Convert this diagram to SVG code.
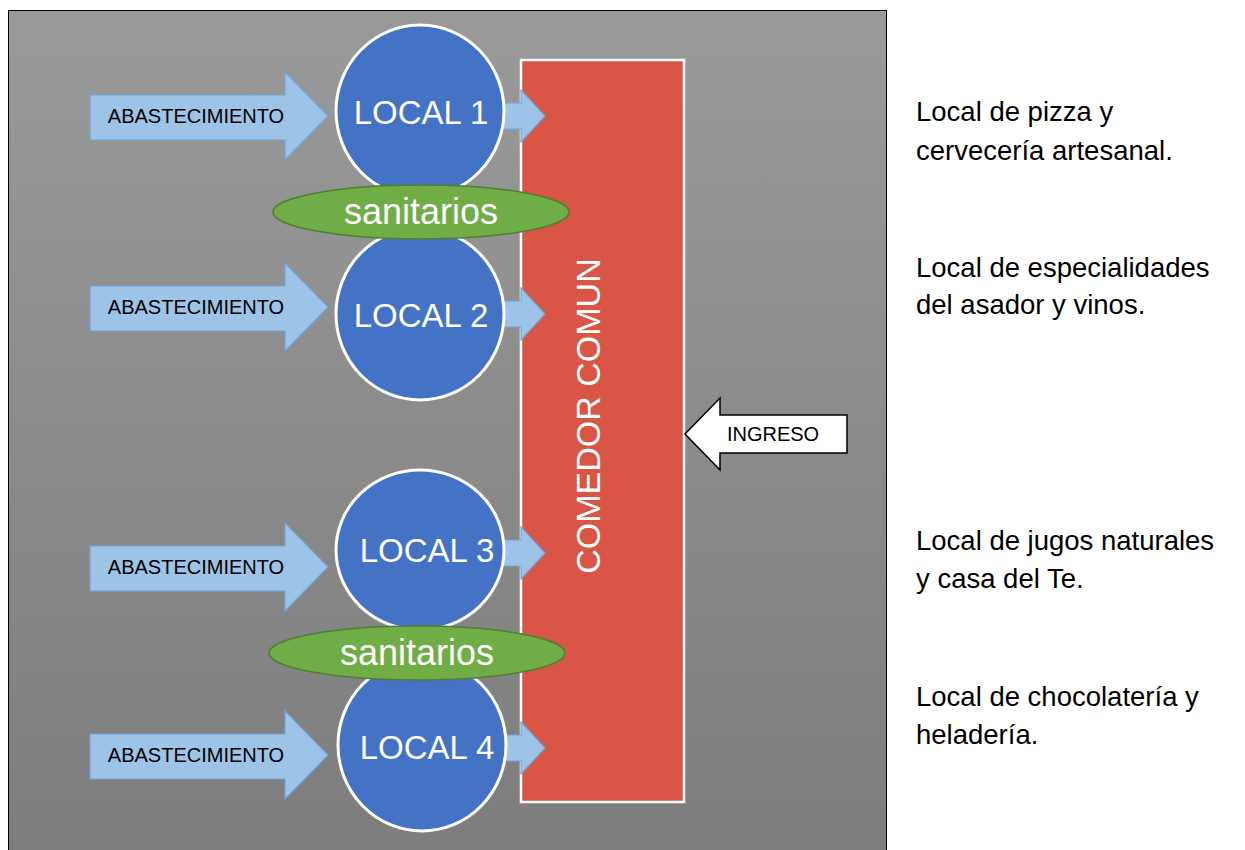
<svg xmlns="http://www.w3.org/2000/svg" width="1245" height="850" viewBox="0 0 1245 850">
<defs>
<linearGradient id="bg" x1="0" y1="0" x2="0" y2="1">
<stop offset="0" stop-color="#9a9a9a"/>
<stop offset="1" stop-color="#7d7d7d"/>
</linearGradient>
<style>
.sup{fill:#9dc3e6;stroke:#6fa6db;stroke-width:1.2}
.loc{fill:#4472c4;stroke:#ffffff;stroke-width:3}
.san{fill:#70ad47;stroke:#507e32;stroke-width:1.5}
.t{font-family:"Liberation Sans",Arial,sans-serif}
.w{fill:#ffffff}
.side{font-family:"Liberation Sans",Arial,sans-serif;font-size:27.5px;fill:#000}
</style>
</defs>
<rect x="0" y="0" width="1245" height="850" fill="#ffffff"/>
<rect id="frame" x="8.5" y="10.5" width="878" height="845" fill="url(#bg)" stroke="#000" stroke-width="1"/>

<g id="comedor">
<rect x="521" y="60" width="163" height="742" fill="#d95545" stroke="#ffffff" stroke-width="2.5"/>
<text class="t w" x="0" y="0" font-size="34" text-anchor="middle" transform="translate(600,416) rotate(-90)">COMEDOR COMUN</text>
</g>

<g id="connectors">
<path class="sup" d="M90,95 H285 V72 L328,116 L285,160 V140 H90 Z"/>
<path class="sup" d="M90,286 H285 V263 L328,307 L285,351 V331 H90 Z"/>
<path class="sup" d="M90,546 H285 V523 L328,567 L285,611 V591 H90 Z"/>
<path class="sup" d="M90,734 H285 V711 L328,755 L285,799 V779 H90 Z"/>
<path class="sup" d="M495,103 H521 V90 L545,116 L521,142 V129 H495 Z"/>
<path class="sup" d="M495,301 H521 V288 L545,314 L521,340 V327 H495 Z"/>
<path class="sup" d="M495,540 H521 V527 L545,553 L521,579 V566 H495 Z"/>
<path class="sup" d="M495,735 H521 V722 L545,748 L521,774 V761 H495 Z"/>
</g>

<g id="ingreso">
<path d="M685,434 L720,398 V415 H847 V453 H720 V470 Z" fill="#ffffff" stroke="#000" stroke-width="1.5"/>
<text class="t" x="773" y="441" font-size="20" text-anchor="middle" fill="#000">INGRESO</text>
</g>

<g id="abast1"><text class="t" x="196" y="123" font-size="20" text-anchor="middle" fill="#000">ABASTECIMIENTO</text></g>
<g id="abast2"><text class="t" x="196" y="314" font-size="20" text-anchor="middle" fill="#000">ABASTECIMIENTO</text></g>
<g id="abast3"><text class="t" x="196" y="574" font-size="20" text-anchor="middle" fill="#000">ABASTECIMIENTO</text></g>
<g id="abast4"><text class="t" x="196" y="762" font-size="20" text-anchor="middle" fill="#000">ABASTECIMIENTO</text></g>

<g id="local1"><ellipse class="loc" cx="420" cy="111" rx="84" ry="86"/><text class="t w" x="421" y="124" font-size="33" text-anchor="middle">LOCAL 1</text></g>
<g id="local2"><ellipse class="loc" cx="420" cy="314" rx="84" ry="86"/><text class="t w" x="421" y="327" font-size="33" text-anchor="middle">LOCAL 2</text></g>
<g id="local3"><ellipse class="loc" cx="420" cy="550" rx="84" ry="80"/><text class="t w" x="427" y="562" font-size="33" text-anchor="middle">LOCAL 3</text></g>
<g id="local4"><ellipse class="loc" cx="422" cy="745" rx="84" ry="86"/><text class="t w" x="427" y="759" font-size="33" text-anchor="middle">LOCAL 4</text></g>

<g id="sanitarios1"><ellipse class="san" cx="421" cy="212" rx="148" ry="27"/><text class="t w" x="421" y="224" font-size="36" text-anchor="middle">sanitarios</text></g>
<g id="sanitarios2"><ellipse class="san" cx="417" cy="653" rx="148" ry="27"/><text class="t w" x="417" y="665" font-size="36" text-anchor="middle">sanitarios</text></g>

<g id="desc1"><text class="side" x="916" y="121">Local de pizza y</text><text class="side" x="916" y="160">cervecería artesanal.</text></g>
<g id="desc2"><text class="side" x="916" y="277">Local de especialidades</text><text class="side" x="916" y="314">del asador y vinos.</text></g>
<g id="desc3"><text class="side" x="916" y="550">Local de jugos naturales</text><text class="side" x="916" y="588">y casa del Te.</text></g>
<g id="desc4"><text class="side" x="916" y="706">Local de chocolatería y</text><text class="side" x="916" y="744">heladería.</text></g>
</svg>
